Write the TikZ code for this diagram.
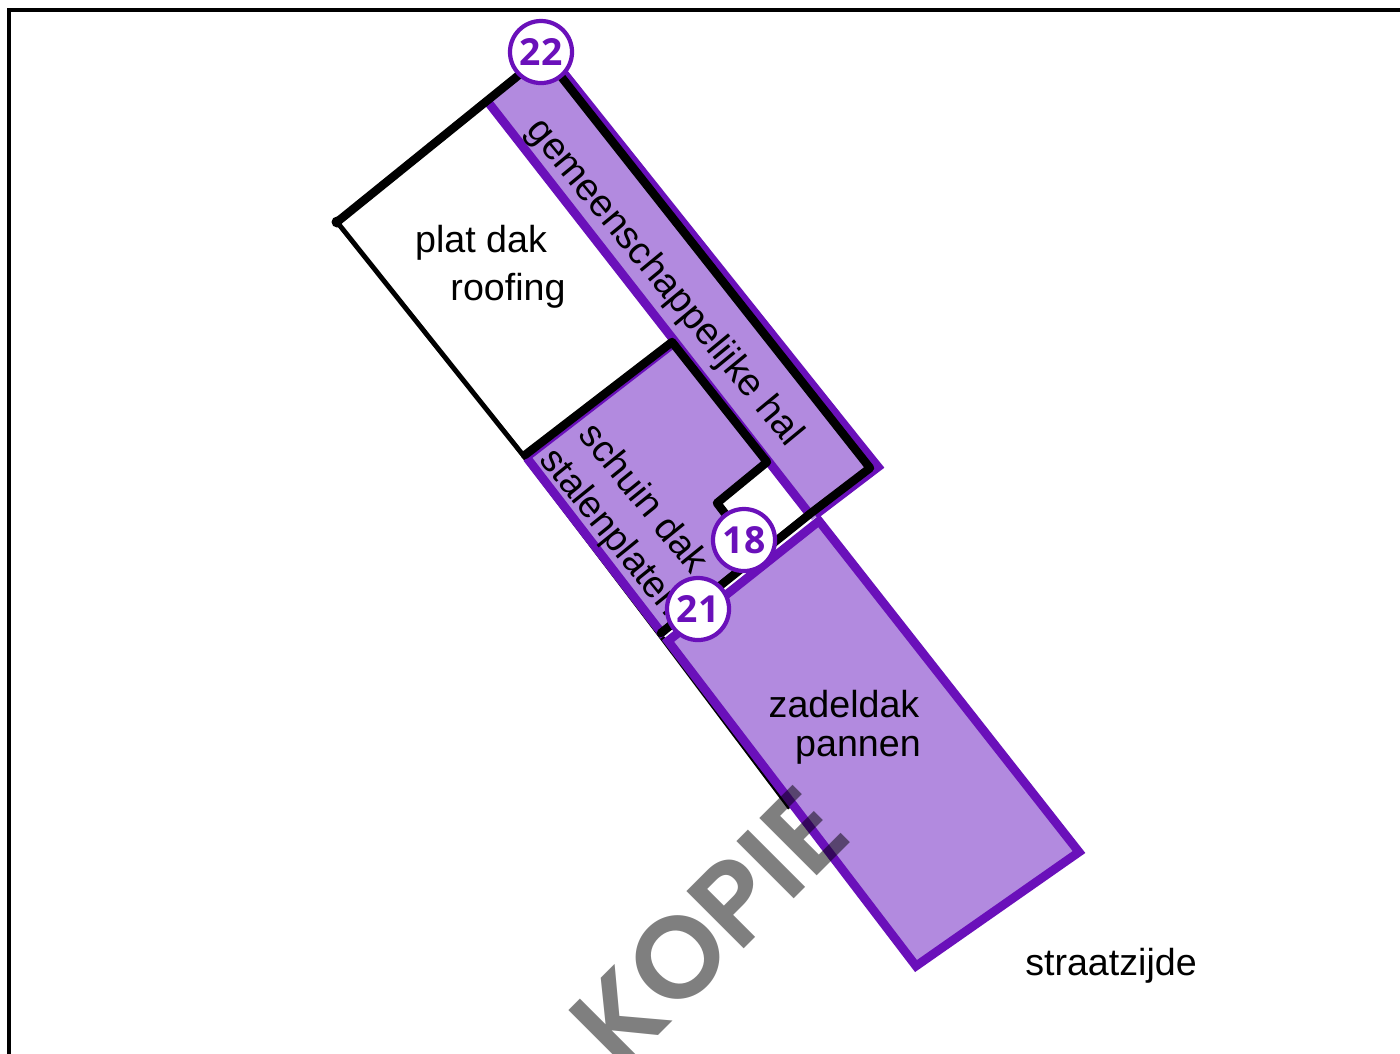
\documentclass[tikz,border=0pt]{standalone}
\usepackage{fontspec}
\setmainfont{Liberation Sans}
\newfontfamily\numfont{Open Sans}
\newfontfamily\stampfont[BoldFont={Poppins SemiBold}]{Poppins}
\definecolor{dakfill}{HTML}{B28ADF}
\definecolor{dakline}{HTML}{6A10BA}
\tikzset{
    label/.style={font=\fontsize{10.7}{12}\selectfont,inner sep=0pt,align=center},
    purpleline/.style={draw=dakline,line width=2.5pt,line join=miter},
    blackline/.style={draw=black,line width=2.4pt,line cap=round,line join=round},
    badge/.style={circle,draw=dakline,fill=white,line width=1.2pt,minimum size=0.62cm,inner sep=0pt,text=dakline,font=\numfont\bfseries\fontsize{10.6}{12}\selectfont},
}
\begin{document}
\begin{tikzpicture}[x=0.01cm,y=-0.01cm]
        \useasboundingbox (0,0) rectangle (1400,1053);
        \clip (0,0) rectangle (1400,1053);
        \fill[white] (0,0) rectangle (1400,1053);
        \draw[line width=1pt] (9,1060) -- (9,10) -- (1410,10);

        \draw[line width=1.4pt,line join=round] (337,222) -- (523,455) -- (660,635) -- (790,808);

        \fill[dakfill] (488,100) -- (541,55) -- (884,467) -- (812,520) -- cycle;
        \fill[dakfill] (527,456) -- (673,342) -- (768,462) -- (716,503) -- (742,537) -- (735,574) -- (664,636) -- cycle;
        \fill[dakfill] (668,641) -- (819,521) -- (1079,852) -- (916,966) -- cycle;

        \draw[purpleline] (488,102) -- (808,512);
        \draw[purpleline] (527,458) -- (664,636);
        \draw[purpleline] (555,62) -- (878,467) -- (815,515);
        \draw[purpleline,line width=0.8pt] (530,458) -- (675,346);
        \draw[purpleline] (668,641) -- (819,521) -- (1079,852) -- (916,966) -- cycle;

        \draw[blackline] (337,222) -- (530,66);
        \draw[blackline] (548,60) -- (870,468) -- (811,513) -- (661,633);
        \draw[blackline] (525,455) -- (672,342) -- (767,462) -- (717,503) -- (740,533);
        \fill (337,222) circle (5.5);

        \node[label,anchor=base] (platdak) at (481,252) {plat dak};
        \node[label,anchor=base] (roofing) at (508,300) {roofing};
        \node[label,anchor=base] (zadeldak) at (844,717) {zadeldak};
        \node[label,anchor=base] (pannen) at (858,756) {pannen};
        \node[label,anchor=base] (straat) at (1111,975) {straatzijde};
        \node[label,rotate=-50.5,font=\fontsize{10.9}{12}\selectfont] (hal) at (664,283) {gemeenschappelijke hal};
        \node[label,rotate=-51] (schuin) at (645,497) {schuin dak};
        \node[label,rotate=-51] (platen) at (610,533) {stalenplaten};

        \node[badge] (b22) at (541,52) {22};
        \node[badge] (b18) at (744,540) {18};
        \node[badge] (b21) at (698,609) {21};

        \node[font=\stampfont\bfseries\fontsize{33}{34}\selectfont,text=black,text opacity=0.5,inner sep=0pt,rotate=45] (kopie) at (709,927) {KOPIE};
\end{tikzpicture}
\end{document}
